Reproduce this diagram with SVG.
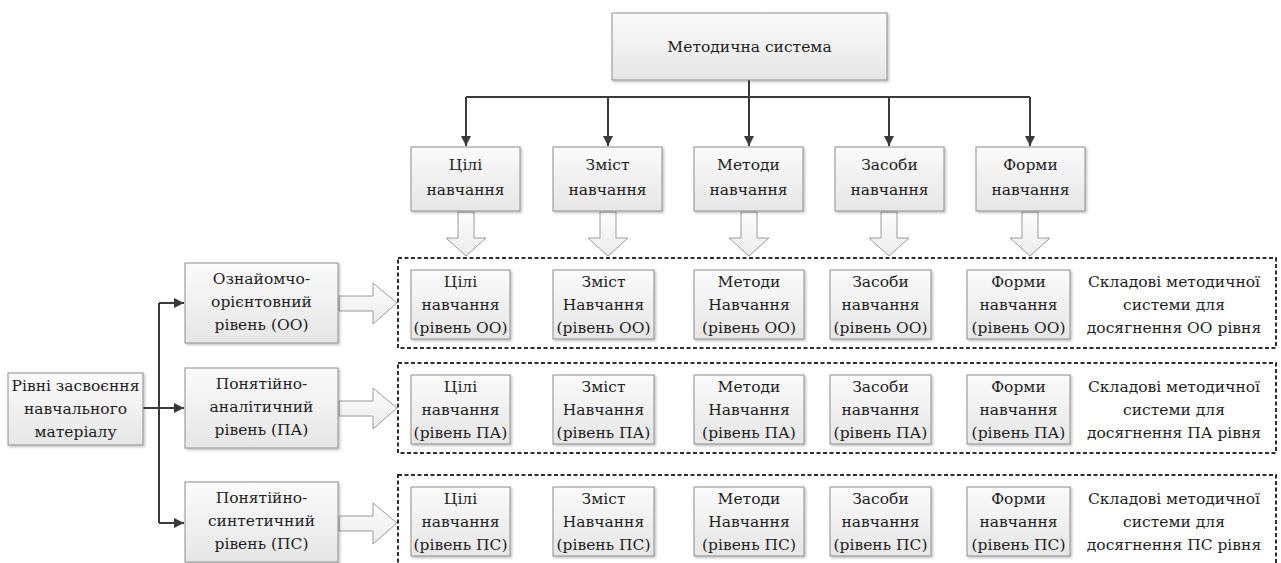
<svg xmlns="http://www.w3.org/2000/svg" width="1281" height="563" viewBox="0 0 1281 563">
  <defs>
    <linearGradient id="boxFill" x1="0" y1="0" x2="0" y2="1">
      <stop offset="0" stop-color="#fbfbfb"/>
      <stop offset="1" stop-color="#e6e6e6"/>
    </linearGradient>
    <linearGradient id="hollowFill" x1="0" y1="0" x2="0" y2="1">
      <stop offset="0" stop-color="#fdfdfd"/>
      <stop offset="1" stop-color="#ececec"/>
    </linearGradient>
    <filter id="shadow" x="-10%" y="-10%" width="125%" height="130%">
      <feDropShadow dx="1.5" dy="1.5" stdDeviation="1.2" flood-color="#000" flood-opacity="0.25"/>
    </filter>
    <marker id="arrow" viewBox="0 0 10 10" refX="10" refY="5" markerWidth="10" markerHeight="10" markerUnits="userSpaceOnUse" orient="auto">
      <path d="M0,0 L10,5 L0,10 z" fill="#3a3a3a"/>
    </marker>
  </defs>
  <style>
    .box { fill: url(#boxFill); stroke: #8e8e8e; stroke-width: 1; filter: url(#shadow); }
    .hollow { fill: url(#hollowFill); stroke: #9a9a9a; stroke-width: 1; }
    .group { fill: none; stroke: #2e2e2e; stroke-width: 2; stroke-dasharray: 4 2.5; }
    .link { fill: none; stroke: #3a3a3a; stroke-width: 2; marker-end: url(#arrow); }
    .line { fill: none; stroke: #3a3a3a; stroke-width: 2; }
    .lbl { font-family: "DejaVu Serif", "Liberation Serif", serif; font-size: 15.5px; fill: #1e1e1e; text-anchor: middle; }
  </style>
  <rect width="1281" height="563" fill="#ffffff"/>

  <!-- connectors -->
  <g id="connectors">
    <path class="line" d="M749,80 V97"/>
    <path class="line" d="M466,97 H1030"/>
    <path class="link" d="M466,97 V146"/>
    <path class="link" d="M608,97 V146"/>
    <path class="link" d="M749,97 V146"/>
    <path class="link" d="M889,97 V146"/>
    <path class="link" d="M1030,97 V146"/>

    <path class="line" d="M159,303 V523"/>
    <path class="link" d="M159,303 H184"/>
    <path class="link" d="M143,408 H184"/>
    <path class="link" d="M159,523 H184"/>

    <!-- hollow block arrows: components into the level groups -->
    <path class="hollow" d="M458,212 V238 H446 L466,256 L486,238 H474 V212 Z"/>
    <path class="hollow" d="M600,212 V238 H588 L608,256 L628,238 H616 V212 Z"/>
    <path class="hollow" d="M741,212 V238 H729 L749,256 L769,238 H757 V212 Z"/>
    <path class="hollow" d="M881,212 V238 H869 L889,256 L909,238 H897 V212 Z"/>
    <path class="hollow" d="M1022,212 V238 H1010 L1030,256 L1050,238 H1038 V212 Z"/>

    <!-- hollow block arrows: levels into their groups -->
    <path class="hollow" d="M339,296 H373 V283 L397,303 L373,324 V311 H339 Z"/>
    <path class="hollow" d="M339,401 H373 V388 L397,408 L373,429 V416 H339 Z"/>
    <path class="hollow" d="M339,516 H373 V503 L397,523 L373,544 V531 H339 Z"/>
  </g>

  <!-- top node -->
  <g id="method-system">
    <rect class="box" x="612" y="13" width="275" height="67"/>
    <text class="lbl" x="749.5" y="52">Методична система</text>
  </g>

  <!-- components -->
  <g id="goals">
    <rect class="box" x="411" y="147" width="109" height="64"/>
    <text class="lbl" x="465.5" y="170">Цілі</text>
    <text class="lbl" x="465.5" y="195">навчання</text>
  </g>
  <g id="content">
    <rect class="box" x="553" y="147" width="109" height="64"/>
    <text class="lbl" x="607.5" y="170">Зміст</text>
    <text class="lbl" x="607.5" y="195">навчання</text>
  </g>
  <g id="methods">
    <rect class="box" x="694" y="147" width="109" height="64"/>
    <text class="lbl" x="748.5" y="170">Методи</text>
    <text class="lbl" x="748.5" y="195">навчання</text>
  </g>
  <g id="means">
    <rect class="box" x="835" y="147" width="109" height="64"/>
    <text class="lbl" x="889.5" y="170">Засоби</text>
    <text class="lbl" x="889.5" y="195">навчання</text>
  </g>
  <g id="forms">
    <rect class="box" x="976" y="147" width="109" height="64"/>
    <text class="lbl" x="1030.5" y="170">Форми</text>
    <text class="lbl" x="1030.5" y="195">навчання</text>
  </g>

  <!-- levels of mastery -->
  <g id="levels">
    <rect class="box" x="8" y="373" width="135" height="72"/>
    <text class="lbl" x="75.5" y="391">Рівні засвоєння</text>
    <text class="lbl" x="75.5" y="414">навчального</text>
    <text class="lbl" x="75.5" y="437">матеріалу</text>
  </g>
  <g id="level-oo">
    <rect class="box" x="185" y="263" width="153" height="80"/>
    <text class="lbl" x="261.5" y="284">Ознайомчо-</text>
    <text class="lbl" x="261.5" y="307">орієнтовний</text>
    <text class="lbl" x="261.5" y="330">рівень (ОО)</text>
  </g>
  <g id="level-pa">
    <rect class="box" x="185" y="368" width="153" height="80"/>
    <text class="lbl" x="261.5" y="389">Понятійно-</text>
    <text class="lbl" x="261.5" y="412">аналітичний</text>
    <text class="lbl" x="261.5" y="435">рівень (ПА)</text>
  </g>
  <g id="level-ps">
    <rect class="box" x="185" y="482" width="153" height="80"/>
    <text class="lbl" x="261.5" y="503">Понятійно-</text>
    <text class="lbl" x="261.5" y="526">синтетичний</text>
    <text class="lbl" x="261.5" y="549">рівень (ПС)</text>
  </g>

  <!-- group OO -->
  <g id="group-oo">
    <rect class="group" x="398" y="258" width="878" height="90"/>
    <rect class="box" x="411" y="270" width="99" height="69"/>
    <text class="lbl" x="460.5" y="287">Цілі</text>
    <text class="lbl" x="460.5" y="310">навчання</text>
    <text class="lbl" x="460.5" y="333">(рівень ОО)</text>
    <rect class="box" x="553" y="270" width="101" height="69"/>
    <text class="lbl" x="603.5" y="287">Зміст</text>
    <text class="lbl" x="603.5" y="310">Навчання</text>
    <text class="lbl" x="603.5" y="333">(рівень ОО)</text>
    <rect class="box" x="694" y="270" width="110" height="69"/>
    <text class="lbl" x="749" y="287">Методи</text>
    <text class="lbl" x="749" y="310">Навчання</text>
    <text class="lbl" x="749" y="333">(рівень ОО)</text>
    <rect class="box" x="830" y="270" width="101" height="69"/>
    <text class="lbl" x="880.5" y="287">Засоби</text>
    <text class="lbl" x="880.5" y="310">навчання</text>
    <text class="lbl" x="880.5" y="333">(рівень ОО)</text>
    <rect class="box" x="967" y="270" width="103" height="69"/>
    <text class="lbl" x="1018.5" y="287">Форми</text>
    <text class="lbl" x="1018.5" y="310">навчання</text>
    <text class="lbl" x="1018.5" y="333">(рівень ОО)</text>
    <text class="lbl" x="1174" y="287">Складові методичної</text>
    <text class="lbl" x="1174" y="310">системи для</text>
    <text class="lbl" x="1174" y="333">досягнення ОО рівня</text>
  </g>

  <!-- group PA -->
  <g id="group-pa">
    <rect class="group" x="398" y="363" width="878" height="90"/>
    <rect class="box" x="411" y="375" width="99" height="69"/>
    <text class="lbl" x="460.5" y="392">Цілі</text>
    <text class="lbl" x="460.5" y="415">навчання</text>
    <text class="lbl" x="460.5" y="438">(рівень ПА)</text>
    <rect class="box" x="553" y="375" width="101" height="69"/>
    <text class="lbl" x="603.5" y="392">Зміст</text>
    <text class="lbl" x="603.5" y="415">Навчання</text>
    <text class="lbl" x="603.5" y="438">(рівень ПА)</text>
    <rect class="box" x="694" y="375" width="110" height="69"/>
    <text class="lbl" x="749" y="392">Методи</text>
    <text class="lbl" x="749" y="415">Навчання</text>
    <text class="lbl" x="749" y="438">(рівень ПА)</text>
    <rect class="box" x="830" y="375" width="101" height="69"/>
    <text class="lbl" x="880.5" y="392">Засоби</text>
    <text class="lbl" x="880.5" y="415">навчання</text>
    <text class="lbl" x="880.5" y="438">(рівень ПА)</text>
    <rect class="box" x="967" y="375" width="103" height="69"/>
    <text class="lbl" x="1018.5" y="392">Форми</text>
    <text class="lbl" x="1018.5" y="415">навчання</text>
    <text class="lbl" x="1018.5" y="438">(рівень ПА)</text>
    <text class="lbl" x="1174" y="392">Складові методичної</text>
    <text class="lbl" x="1174" y="415">системи для</text>
    <text class="lbl" x="1174" y="438">досягнення ПА рівня</text>
  </g>

  <!-- group PS -->
  <g id="group-ps">
    <rect class="group" x="398" y="475" width="878" height="92"/>
    <rect class="box" x="411" y="487" width="99" height="69"/>
    <text class="lbl" x="460.5" y="504">Цілі</text>
    <text class="lbl" x="460.5" y="527">навчання</text>
    <text class="lbl" x="460.5" y="550">(рівень ПС)</text>
    <rect class="box" x="553" y="487" width="101" height="69"/>
    <text class="lbl" x="603.5" y="504">Зміст</text>
    <text class="lbl" x="603.5" y="527">Навчання</text>
    <text class="lbl" x="603.5" y="550">(рівень ПС)</text>
    <rect class="box" x="694" y="487" width="110" height="69"/>
    <text class="lbl" x="749" y="504">Методи</text>
    <text class="lbl" x="749" y="527">Навчання</text>
    <text class="lbl" x="749" y="550">(рівень ПС)</text>
    <rect class="box" x="830" y="487" width="101" height="69"/>
    <text class="lbl" x="880.5" y="504">Засоби</text>
    <text class="lbl" x="880.5" y="527">навчання</text>
    <text class="lbl" x="880.5" y="550">(рівень ПС)</text>
    <rect class="box" x="967" y="487" width="103" height="69"/>
    <text class="lbl" x="1018.5" y="504">Форми</text>
    <text class="lbl" x="1018.5" y="527">навчання</text>
    <text class="lbl" x="1018.5" y="550">(рівень ПС)</text>
    <text class="lbl" x="1174" y="504">Складові методичної</text>
    <text class="lbl" x="1174" y="527">системи для</text>
    <text class="lbl" x="1174" y="550">досягнення ПС рівня</text>
  </g>
</svg>
